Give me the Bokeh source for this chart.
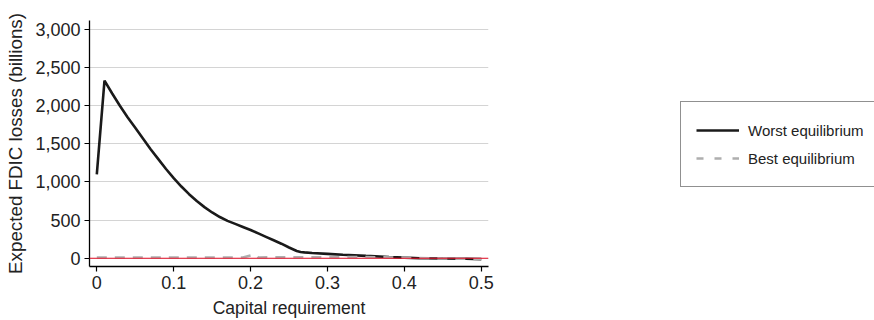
from bokeh.plotting import figure
from bokeh.layouts import row
from bokeh.models import Range1d, Span, Legend, LegendItem, NumeralTickFormatter, FixedTicker
from bokeh.embed import file_html
from bokeh.resources import INLINE

# Worst equilibrium (billions)
worst_x = [0.00, 0.01, 0.02, 0.03, 0.04, 0.05, 0.06, 0.07, 0.08, 0.09, 0.10,
           0.11, 0.12, 0.13, 0.14, 0.15, 0.16, 0.17, 0.18, 0.19, 0.20,
           0.21, 0.22, 0.23, 0.24, 0.25, 0.26, 0.265, 0.27, 0.28, 0.30, 0.32,
           0.35, 0.38, 0.40, 0.42, 0.45, 0.48, 0.50]
worst_y = [1100, 2330, 2160, 2000, 1850, 1710, 1570, 1430, 1300, 1170, 1050,
           940, 840, 750, 670, 600, 540, 490, 450, 410, 370,
           325, 280, 235, 190, 140, 95, 82, 76, 68, 57, 45,
           30, 16, 8, 0, -5, -8, -12]

# Best equilibrium (billions)
best_x = [0.00, 0.10, 0.19, 0.205, 0.21, 0.25, 0.30, 0.35, 0.40, 0.45, 0.50]
best_y = [10, 10, 10, 50, 10, 12, 12, 15, 8, -4, -10]

x_ticks = [0, 0.1, 0.2, 0.3, 0.4, 0.5]
y_ticks = [0, 500, 1000, 1500, 2000, 2500, 3000]

series_labels = ["Worst equilibrium", "Best equilibrium"]

FONT = "Liberation Sans"
TXT = "#222222"
WORST_COLOR = "#1a1a1a"
BEST_COLOR = "#aeaeae"

p = figure(width=600, height=320, output_backend="svg", toolbar_location=None,
           x_range=Range1d(-0.0095, 0.5094), y_range=Range1d(-109, 3118),
           min_border_left=89, min_border_right=112, min_border_top=20,
           min_border_bottom=54)
p.outline_line_color = None
p.background_fill_color = "white"

p.xgrid.grid_line_color = None
p.ygrid.grid_line_color = "#d4d4d4"
p.ygrid.grid_line_width = 1.2

for ax in (p.xaxis[0], p.yaxis[0]):
    ax.axis_line_color = "black"
    ax.axis_line_width = 1.3
    ax.major_tick_line_color = "black"
    ax.major_tick_line_width = 1.2
    ax.major_tick_out = 5
    ax.major_tick_in = 0
    ax.minor_tick_line_color = None
    ax.major_label_text_font = FONT
    ax.major_label_text_font_size = "18px"
    ax.major_label_text_color = TXT
    ax.axis_label_text_font = FONT
    ax.axis_label_text_font_style = "normal"
    ax.axis_label_text_color = TXT

p.xaxis.ticker = FixedTicker(ticks=x_ticks)
p.yaxis.ticker = FixedTicker(ticks=y_ticks)
p.yaxis.formatter = NumeralTickFormatter(format="0,0")
p.xaxis.formatter = NumeralTickFormatter(format="0.[0]")
p.xaxis.axis_label = "Capital requirement"
p.yaxis.axis_label = "Expected FDIC losses (billions)"
p.xaxis.axis_label_text_font_size = "17.5px"
p.yaxis.axis_label_text_font_size = "18.8px"
p.xaxis.major_label_standoff = 4
p.xaxis.axis_label_standoff = 6
p.yaxis.major_label_standoff = 4
p.yaxis.axis_label_standoff = 6

p.add_layout(Span(location=0, dimension="width", line_color="#e8102a", line_width=1.1))

p.line(worst_x, worst_y, line_color=WORST_COLOR, line_width=2.6)
p.line(best_x, best_y, line_color=BEST_COLOR, line_width=2.6, line_dash="10 8")

# Legend panel (separate canvas to the right of the plot); its ranges keep
# the series' own lines out of view so only the legend shows.
q = figure(width=274, height=320, output_backend="svg", toolbar_location=None,
           x_range=Range1d(10, 11), y_range=Range1d(10, 11),
           min_border=0, min_border_left=0, min_border_right=0,
           min_border_top=0, min_border_bottom=0)
q.axis.visible = False
q.grid.visible = False
q.outline_line_color = None
lw = q.line(worst_x, worst_y, line_color=WORST_COLOR, line_width=2.6)
lb = q.line(best_x, best_y, line_color=BEST_COLOR, line_width=2.6, line_dash="7 11")

legend = Legend(items=[LegendItem(label=series_labels[0], renderers=[lw]),
                       LegendItem(label=series_labels[1], renderers=[lb])],
                location=(80, 79), orientation="vertical",
                border_line_color="#222222", border_line_width=1.2,
                background_fill_color="white", background_fill_alpha=1,
                padding=15, spacing=2, margin=0,
                glyph_width=43, glyph_height=26, label_height=26,
                label_standoff=9, label_width=117,
                label_text_font=FONT, label_text_font_size="15px",
                label_text_color=TXT)
q.add_layout(legend, "center")

layout = row(p, q, spacing=0)
open("out.html", "w").write(file_html(layout, INLINE))
